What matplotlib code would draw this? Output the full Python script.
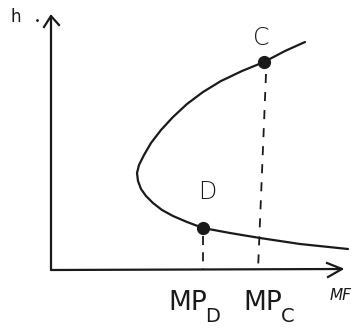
import numpy as np
import matplotlib
matplotlib.use("Agg")
import matplotlib.pyplot as plt

# hand-sketched S-curve of h against MP, in drawing units (y grows downward)
curve_mp = [305, 285, 264, 242, 221, 203, 187, 173, 161, 151, 144, 139, 137, 138, 141, 146, 153, 162, 173, 187, 203, 230, 260, 300, 348]
curve_h = [42, 51, 62, 71, 81, 92, 104, 117, 130, 143, 155, 165, 173, 181, 189, 196, 203, 210, 216, 222, 228, 233, 238, 244, 249]

points = {"C": (264, 62), "D": (203, 228)}
label_pos = {"C": (261, 38), "D": (207, 192)}
axis_origin = (51, 270)
axis_tip_h = 16
axis_tip_mp = 342
mp_labels = [("MP", "D", 188), ("MP", "C", 263)]

fig = plt.figure(figsize=(3.55, 3.36), dpi=100)
ax = fig.add_axes([0, 0, 1, 1])
ax.set_xlim(0, 355); ax.set_ylim(336, 0); ax.axis("off")
ink = "#1a1a1a"

# axes with open arrowheads
x0, y0 = axis_origin
ax.plot([x0, x0], [y0, axis_tip_h], color=ink, lw=1.6, solid_capstyle="round")
ax.plot([x0, axis_tip_mp], [y0, y0 - 1], color=ink, lw=1.6, solid_capstyle="round")
ax.plot([x0 - 7, x0, x0 + 8], [axis_tip_h + 11, axis_tip_h, axis_tip_h + 9], color=ink, lw=1.6)
ax.plot([axis_tip_mp - 15, axis_tip_mp, axis_tip_mp - 14], [y0 - 7, y0 - 1, y0 + 7], color=ink, lw=1.6)

ax.plot(curve_mp, curve_h, color=ink, lw=1.6, solid_capstyle="round", solid_joinstyle="round")

# dashed drop lines from the two points
cx, cy = points["C"]; dx, dy = points["D"]
ax.plot([cx + 2, cx - 6], [cy + 12, y0], color=ink, lw=1.3, ls=(0, (5, 5)))
ax.plot([dx, dx], [dy + 8, y0], color=ink, lw=1.3, ls=(0, (5, 4)))

for k, (px, py) in points.items():
    ax.plot(px, py, "o", color=ink, ms=8.5)
    lx, ly = label_pos[k]
    ax.text(lx, ly, k, ha="center", va="center", fontsize=17, color=ink, fontweight="light")

for main, sub, xc in mp_labels:
    ax.text(xc, 303, main, ha="center", va="center", fontsize=19, color=ink)
    ax.text(xc + 25, 316, sub, ha="center", va="center", fontsize=14, color=ink)
ax.text(330, 296, "MF", ha="left", va="center", fontsize=11, color=ink, style="italic")
ax.text(10, 17, "h", ha="left", va="center", fontsize=12, color=ink)
ax.plot(37, 20, ".", color=ink, ms=2)

fig.savefig("out.png", dpi=100)
